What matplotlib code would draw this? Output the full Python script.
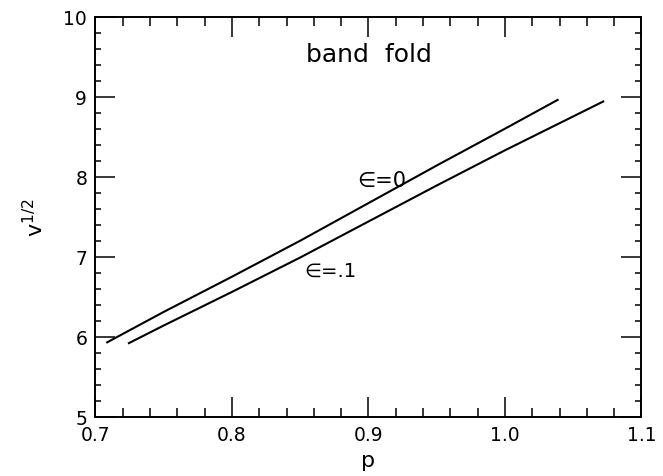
import matplotlib
matplotlib.use("Agg")
import matplotlib.pyplot as plt
from matplotlib.ticker import MultipleLocator

plt.rcParams['font.family'] = ['DejaVu Sans']
plt.rcParams['mathtext.default'] = 'regular'

# band fold curves, v^(1/2) against p
p_eps0 = [0.7086, 0.75, 0.80, 0.85, 0.90, 0.95, 1.00, 1.0386]
v_eps0 = [5.93, 6.31, 6.75, 7.20, 7.67, 8.14, 8.60, 8.96]

p_eps1 = [0.7245, 0.75, 0.80, 0.85, 0.90, 0.95, 1.00, 1.072]
v_eps1 = [5.92, 6.14, 6.56, 6.99, 7.44, 7.89, 8.33, 8.94]

fig = plt.figure(figsize=(6.63, 4.77), dpi=100)
ax = fig.add_axes([0.144, 0.1243, 0.8235, 0.8386])

ax.plot(p_eps0, v_eps0, color='black', lw=1.5)
ax.plot(p_eps1, v_eps1, color='black', lw=1.5)

ax.text(0.9097, 7.965, '\u2208=0', fontsize=15, ha='center', va='center')
ax.text(0.8718, 6.83, '\u2208=.1', fontsize=14, ha='center', va='center')
ax.text(0.90, 9.53, 'band  fold', fontsize=18, ha='center', va='center')

ax.set_xlim(0.7, 1.1)
ax.set_ylim(5, 10)
ax.xaxis.set_major_locator(MultipleLocator(0.1))
ax.xaxis.set_minor_locator(MultipleLocator(0.02))
ax.yaxis.set_major_locator(MultipleLocator(1))
ax.yaxis.set_minor_locator(MultipleLocator(0.2))
ax.set_xticks([0.7, 0.8, 0.9, 1.0, 1.1])
ax.set_xticklabels(['0.7', '0.8', '0.9', '1.0', '1.1'])

ax.tick_params(which='both', direction='in', top=True, right=True, width=1.1, labelsize=13.5)
ax.tick_params(which='major', length=14.4, pad=6)
ax.tick_params(axis='x', which='minor', length=6.3)
ax.tick_params(axis='y', which='minor', length=4.3)
for s in ax.spines.values():
    s.set_linewidth(1.4)

ax.set_xlabel('p', fontsize=16, labelpad=4)
ax.set_ylabel(r'v$^{1/2}$', fontsize=16, labelpad=12)

fig.savefig('out.png', dpi=100)
